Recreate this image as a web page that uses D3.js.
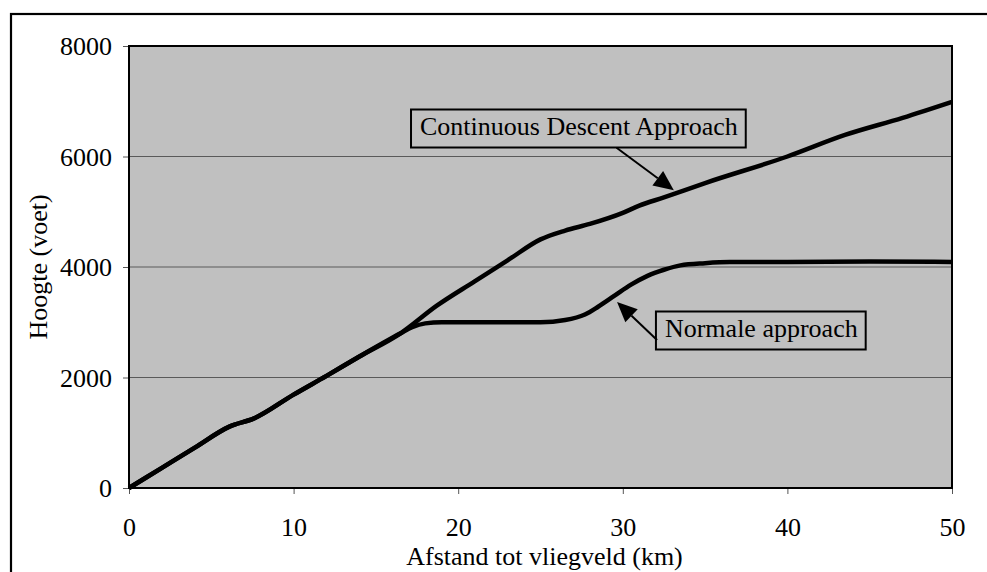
<!DOCTYPE html>
<html>
<head>
<meta charset="utf-8">
<script src="https://cdn.jsdelivr.net/npm/d3@7"></script>
<style>
  html, body { margin: 0; padding: 0; background: #fff; }
  svg text { font-family: "Liberation Serif", "Times New Roman", serif; fill: #000; }
</style>
</head>
<body>
<svg id="chart" width="987" height="572"></svg>
<script>
// ---- Data ----
const xTicks = [0, 10, 20, 30, 40, 50];
const yTicks = [0, 2000, 4000, 6000, 8000];
const xTitle = "Afstand tot vliegveld (km)";
const yTitle = "Hoogte (voet)";

const distanceCDA = [0, 2, 4, 6.1, 7.6, 10, 12, 14, 16.5, 18.7, 21, 23, 25, 26.5, 28, 30, 31, 32.5, 35, 40, 43.5, 47, 50];
const heightCDA   = [0, 365, 730, 1110, 1260, 1690, 2030, 2380, 2800, 3300, 3740, 4120, 4500, 4660, 4780, 4980, 5110, 5260, 5520, 6000, 6390, 6700, 6990];

const distanceNormal = [0, 2, 4, 6.1, 7.6, 10, 12, 14, 16.5, 17.2, 18, 19, 22, 25, 26.5, 27.7, 28.5, 29.5, 30.5, 31.5, 32.5, 33.5, 35, 36.5, 40, 45, 50];
const heightNormal   = [0, 365, 730, 1110, 1260, 1690, 2030, 2380, 2800, 2910, 2980, 3000, 3000, 3000, 3040, 3140, 3280, 3480, 3680, 3840, 3950, 4030, 4070, 4090, 4090, 4100, 4090];

const seriesNames = ["Continuous Descent Approach", "Normale approach"];

// ---- Layout ----
const svg = d3.select("#chart");
const plot = { left: 129, right: 952, top: 46, bottom: 488 };
const fontSize = 26;

const x = d3.scaleLinear().domain([0, 50]).range([plot.left, plot.right]);
const y = d3.scaleLinear().domain([0, 8000]).range([plot.bottom, plot.top]);

// outer chart border
svg.append("rect")
  .attr("x", 11).attr("y", 14).attr("width", 1000).attr("height", 600)
  .attr("fill", "none").attr("stroke", "#000").attr("stroke-width", 2.2);

// plot background
svg.append("rect")
  .attr("x", plot.left).attr("y", plot.top)
  .attr("width", plot.right - plot.left).attr("height", plot.bottom - plot.top)
  .attr("fill", "#c0c0c0");

// gridlines
svg.append("g").selectAll("line")
  .data(yTicks.filter(d => d > 0 && d < 8000))
  .join("line")
  .attr("x1", plot.left).attr("x2", plot.right)
  .attr("y1", d => y(d)).attr("y2", d => y(d))
  .attr("stroke", "#5a5a5a").attr("stroke-width", 1);

// axes
const yAxis = d3.axisLeft(y).tickValues(yTicks).tickSize(6).tickPadding(11).tickFormat(d3.format("d"));
const gy = svg.append("g").attr("transform", `translate(${plot.left},0)`).call(yAxis);
gy.select(".domain").remove();
gy.selectAll(".tick line").attr("stroke", "#555");
gy.selectAll(".tick text")
  .attr("font-family", "Liberation Serif").attr("font-size", fontSize)
  .attr("dy", "0.34em").attr("fill", "#000");

const xAxis = d3.axisBottom(x).tickValues(xTicks).tickSize(6).tickPadding(0).tickFormat(d3.format("d"));
const gx = svg.append("g").attr("transform", `translate(0,${plot.bottom})`).call(xAxis);
gx.select(".domain").remove();
gx.selectAll(".tick line").attr("stroke", "#555");
gx.selectAll(".tick text")
  .attr("font-family", "Liberation Serif").attr("font-size", fontSize)
  .attr("y", 48).attr("dy", 0).attr("fill", "#000");

// plot frame
svg.append("rect")
  .attr("x", plot.left).attr("y", plot.top)
  .attr("width", plot.right - plot.left).attr("height", plot.bottom - plot.top)
  .attr("fill", "none").attr("stroke", "#000").attr("stroke-width", 2);

// lines
const line = d3.line().x(d => x(d[0])).y(d => y(d[1])).curve(d3.curveMonotoneX);
const cdaData = distanceCDA.map((d, i) => [d, heightCDA[i]]);
const normData = distanceNormal.map((d, i) => [d, heightNormal[i]]);

svg.append("path").datum(normData).attr("d", line)
  .attr("fill", "none").attr("stroke", "#000").attr("stroke-width", 4.5).attr("stroke-linejoin", "round");
svg.append("path").datum(cdaData).attr("d", line)
  .attr("fill", "none").attr("stroke", "#000").attr("stroke-width", 4.5).attr("stroke-linejoin", "round");

// axis titles
svg.append("text")
  .attr("x", (plot.left + plot.right) / 2 + 4).attr("y", 565)
  .attr("text-anchor", "middle").attr("font-size", fontSize)
  .text(xTitle);
svg.append("text")
  .attr("transform", `translate(47,${(plot.top + plot.bottom) / 2}) rotate(-90)`)
  .attr("text-anchor", "middle").attr("font-size", fontSize)
  .text(yTitle);

// annotations (text anchor, arrow tail and tip in data units)
const annotations = [
  { label: seriesNames[0], tx: 17.68, ty: 6389, tailX: 29.62, tailY: 6159, tipX: 33.1, tipY: 5390 },
  { label: seriesNames[1], tx: 32.56, ty: 2733, tailX: 32.08, tailY: 2679, tipX: 29.65, tipY: 3367 }
];

annotations.forEach(a => {
  const g = svg.append("g");
  const t = g.append("text")
    .attr("x", x(a.tx)).attr("y", y(a.ty))
    .attr("font-size", fontSize).text(a.label);
  const bb = t.node().getBBox();
  g.insert("rect", "text")
    .attr("x", x(a.tx) - 9).attr("y", y(a.ty) - 25.5)
    .attr("width", bb.width + 17).attr("height", 38)
    .attr("fill", "#c0c0c0").attr("stroke", "#000").attr("stroke-width", 2);

  const x1 = x(a.tailX), y1 = y(a.tailY), x2 = x(a.tipX), y2 = y(a.tipY);
  const ang = Math.atan2(y2 - y1, x2 - x1);
  const headLen = 20, headW = 9;
  const bx = x2 - headLen * Math.cos(ang), by = y2 - headLen * Math.sin(ang);
  g.append("line")
    .attr("x1", x1).attr("y1", y1).attr("x2", bx).attr("y2", by)
    .attr("stroke", "#000").attr("stroke-width", 2);
  const px = -Math.sin(ang), py = Math.cos(ang);
  g.append("path")
    .attr("d", `M${x2},${y2}L${bx + px * headW},${by + py * headW}L${bx - px * headW},${by - py * headW}Z`)
    .attr("fill", "#000");
});
</script>
</body>
</html>
